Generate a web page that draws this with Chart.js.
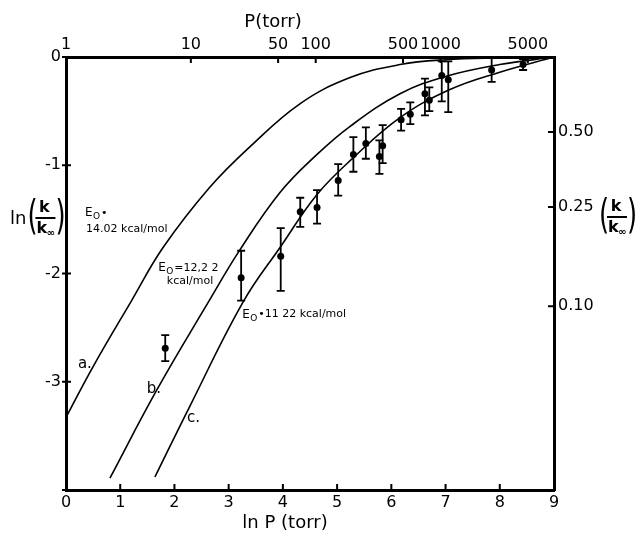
<!DOCTYPE html>
<html>
<head>
<meta charset="utf-8">
<script src="https://cdn.jsdelivr.net/npm/chart.js@4.4.1/dist/chart.umd.min.js"></script>
<style>
  html, body { margin: 0; padding: 0; background: #fff; }
  canvas { display: block; }
</style>
</head>
<body>
<canvas id="c" width="637" height="533"></canvas>
<script>
// curve a (E0 = 14.02 kcal/mol)
const curveA_x = [0.0, 0.5, 1.21, 1.79, 2.64, 3.39, 4.32, 5.24, 6.16, 7.0, 8.0, 9.0];
const curveA_y = [-3.33, -2.86, -2.25, -1.76, -1.21, -0.83, -0.43, -0.19, -0.07, -0.025, -0.008, 0];
// curve b (E0 = 12.22 kcal/mol)
const curveB_x = [0.81, 1.67, 2.63, 3.21, 3.95, 4.63, 5.24, 6.16, 7.0, 8.0, 9.0];
const curveB_y = [-3.89, -3.08, -2.26, -1.78, -1.25, -0.9, -0.64, -0.34, -0.18, -0.07, 0];
// curve c (E0 = 11.22 kcal/mol)
const curveC_x = [1.64, 2.29, 3.27, 3.96, 4.63, 5.3, 6.16, 7.08, 8.0, 9.0];
const curveC_y = [-3.88, -3.22, -2.26, -1.75, -1.27, -0.93, -0.56, -0.30, -0.14, 0];

// measured points with error bars
const ptX  = [1.83, 3.23, 3.96, 4.32, 4.63, 5.02, 5.30, 5.53, 5.78, 5.84, 6.18, 6.35, 6.62, 6.70, 6.93, 7.05, 7.85, 8.43];
const ptY  = [-2.69, -2.04, -1.84, -1.43, -1.39, -1.14, -0.90, -0.80, -0.92, -0.82, -0.58, -0.53, -0.34, -0.40, -0.17, -0.21, -0.12, -0.07];
const ptLo = [-2.81, -2.25, -2.16, -1.57, -1.54, -1.28, -1.06, -0.94, -1.08, -0.98, -0.68, -0.62, -0.54, -0.50, -0.41, -0.51, -0.23, -0.12];
const ptHi = [-2.57, -1.79, -1.58, -1.30, -1.23, -0.99, -0.74, -0.65, -0.77, -0.63, -0.48, -0.42, -0.20, -0.28, -0.04, -0.04, -0.01, -0.02];

// top axis: pressure in torr
const pTicks = [1, 10, 50, 100, 500, 1000, 5000];
const pTickLabels = ['1', '10', '50', '100', '500', '1000', '5000'];
// right axis: k/k_inf
const ratioTicks = [0.5, 0.25, 0.1];
const ratioTickLabels = ['0.50', '0.25', '0.10'];

const FONT = 'DejaVu Sans';

function pts(xs, ys) { return xs.map((v, i) => ({ x: v, y: ys[i] })); }

const curveStyle = {
  borderColor: '#000', borderWidth: 1.6, pointRadius: 0, fill: false,
  tension: 0.4, showLine: true
};

// draws "(k / k∞)" with optional "ln" in front
function fracTitle(ctx, x, cy, prefix) {
  ctx.save();
  ctx.fillStyle = '#000';
  ctx.strokeStyle = '#000';
  ctx.textBaseline = 'middle';
  if (prefix) {
    ctx.font = '18px "' + FONT + '"';
    ctx.textAlign = 'left';
    ctx.fillText(prefix, x, cy + 1);
    x += ctx.measureText(prefix).width + 1;
  }
  // tall parenthesis
  ctx.save();
  ctx.translate(x, cy);
  ctx.scale(1, 1.6);
  ctx.font = '26px "' + FONT + '"';
  ctx.textAlign = 'left';
  ctx.fillText('(', 0, 0);
  ctx.restore();
  x += 8;
  ctx.font = 'bold 16px "' + FONT + '"';
  ctx.textAlign = 'center';
  ctx.fillText('k', x + 9, cy - 10);
  ctx.lineWidth = 2;
  ctx.beginPath(); ctx.moveTo(x, cy); ctx.lineTo(x + 20, cy); ctx.stroke();
  ctx.textAlign = 'left';
  ctx.fillText('k', x + 1, cy + 11);
  ctx.font = 'bold 10px "' + FONT + '"';
  ctx.fillText('\u221e', x + 11, cy + 15);
  x += 20;
  ctx.save();
  ctx.translate(x, cy);
  ctx.scale(1, 1.6);
  ctx.font = '26px "' + FONT + '"';
  ctx.fillText(')', 0, 0);
  ctx.restore();
  ctx.restore();
}

// "E" with subscript "O" and the rest of the label
function eLabel(ctx, px, py, rest) {
  ctx.font = '12px "' + FONT + '"';
  ctx.fillText('E', px, py);
  ctx.font = '9px "' + FONT + '"';
  ctx.fillText('O', px + 8, py + 4);
  ctx.font = '11px "' + FONT + '"';
  ctx.fillText(rest, px + 16, py);
}

const decor = {
  id: 'decor',
  afterDatasetsDraw(chart) {
    const { ctx, scales } = chart;
    const y = scales.y;
    const meta = chart.getDatasetMeta(3);
    ctx.save();
    ctx.strokeStyle = '#000';
    ctx.lineWidth = 1.8;
    meta.data.forEach((el, i) => {
      const yl = y.getPixelForValue(ptLo[i]);
      const yh = y.getPixelForValue(ptHi[i]);
      ctx.beginPath();
      ctx.moveTo(el.x, yl); ctx.lineTo(el.x, yh);
      ctx.moveTo(el.x - 4, yl); ctx.lineTo(el.x + 4, yl);
      ctx.moveTo(el.x - 4, yh); ctx.lineTo(el.x + 4, yh);
      ctx.stroke();
    });
    ctx.restore();
  },
  afterDraw(chart) {
    const { ctx, chartArea: a, scales } = chart;
    const { x, y, x2, y2 } = scales;
    ctx.save();
    ctx.strokeStyle = '#000';
    ctx.lineWidth = 2;
    ctx.beginPath();
    x.ticks.forEach(t => { const p = x.getPixelForValue(t.value); ctx.moveTo(p, a.bottom); ctx.lineTo(p, a.bottom - 6); });
    x2.ticks.forEach(t => { const p = x2.getPixelForValue(t.value); ctx.moveTo(p, a.top); ctx.lineTo(p, a.top + 6); });
    y.ticks.forEach(t => { const p = y.getPixelForValue(t.value); ctx.moveTo(a.left - 4, p); ctx.lineTo(a.left + 5, p); });
    y2.ticks.forEach(t => { const p = y2.getPixelForValue(t.value); ctx.moveTo(a.right - 6, p); ctx.lineTo(a.right + 2, p); });
    ctx.stroke();

    ctx.fillStyle = '#000';
    ctx.textBaseline = 'middle';
    ctx.textAlign = 'center';
    ctx.font = '18px "' + FONT + '"';
    ctx.fillText('P(torr)', 273, 22);
    ctx.fillText('ln P (torr)', 285, 523);

    fracTitle(ctx, 10, 218, 'ln');
    fracTitle(ctx, 599, 217, '');

    // curve annotations, anchored in data space
    ctx.textAlign = 'left';
    const X = v => x.getPixelForValue(v), Y = v => y.getPixelForValue(v);
    eLabel(ctx, X(0.35), Y(-1.44), '\u2022');
    ctx.font = '11px "' + FONT + '"';
    ctx.fillText('14.02 kcal/mol', X(0.37), Y(-1.59));
    eLabel(ctx, X(1.70), Y(-1.95), '=12,2 2');
    ctx.font = '11px "' + FONT + '"';
    ctx.fillText('kcal/mol', X(1.86), Y(-2.07));
    eLabel(ctx, X(3.25), Y(-2.38), '\u202211 22 kcal/mol');
    ctx.font = '15px "' + FONT + '"';
    ctx.fillText('a.', X(0.22), Y(-2.84));
    ctx.fillText('b.', X(1.49), Y(-3.07));
    ctx.fillText('c.', X(2.23), Y(-3.34));
    ctx.restore();
  }
};

const tickFont = { family: FONT, size: 16 };
const border = { display: true, color: '#000', width: 3 };
const noGrid = { display: false, drawTicks: false };

new Chart(document.getElementById('c'), {
  type: 'scatter',
  data: {
    datasets: [
      Object.assign({ label: 'a', data: pts(curveA_x, curveA_y) }, curveStyle),
      Object.assign({ label: 'b', data: pts(curveB_x, curveB_y) }, curveStyle),
      Object.assign({ label: 'c', data: pts(curveC_x, curveC_y) }, curveStyle),
      {
        label: 'data', data: pts(ptX, ptY), showLine: false,
        pointRadius: 3.5, pointBackgroundColor: '#000', pointBorderColor: '#000', pointBorderWidth: 0
      }
    ]
  },
  options: {
    responsive: false,
    animation: false,
    layout: { padding: 0 },
    plugins: { legend: { display: false }, tooltip: { enabled: false } },
    scales: {
      x: {
        type: 'linear', position: 'bottom', min: 0, max: 9,
        grid: noGrid, border: border,
        ticks: { stepSize: 1, color: '#000', font: tickFont, padding: 3, maxRotation: 0 },
        afterFit: s => { s.height = 43; }
      },
      x2: {
        type: 'linear', position: 'top', min: 0, max: 9,
        grid: noGrid, border: border,
        afterBuildTicks: s => { s.ticks = pTicks.map(p => ({ value: Math.log(p) })); },
        ticks: {
          color: '#000', font: tickFont, padding: 3, autoSkip: false, maxRotation: 0,
          callback: (v, i) => pTickLabels[i]
        },
        afterFit: s => { s.height = 57; }
      },
      y: {
        type: 'linear', position: 'left', min: -4, max: 0,
        grid: noGrid, border: border,
        ticks: {
          stepSize: 1, color: '#000', font: tickFont, padding: 5,
          callback: v => (v === -4 ? '' : String(v))
        },
        afterFit: s => { s.width = 66; }
      },
      y2: {
        type: 'linear', position: 'right', min: -4, max: 0,
        grid: noGrid, border: border,
        afterBuildTicks: s => { s.ticks = ratioTicks.map(r => ({ value: Math.log(r) })); },
        ticks: {
          color: '#000', font: tickFont, padding: 4, autoSkip: false,
          callback: (v, i) => ratioTickLabels[i]
        },
        afterFit: s => { s.width = 83; }
      }
    }
  },
  plugins: [decor]
});
</script>
</body>
</html>
